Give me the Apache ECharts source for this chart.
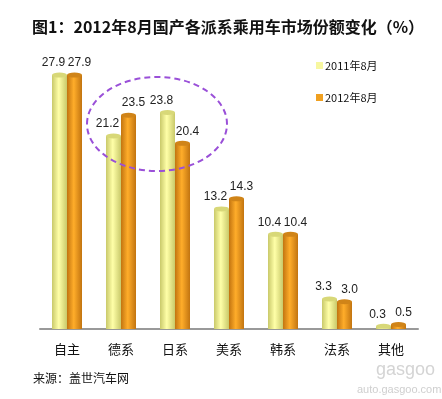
<!DOCTYPE html>
<html>
<head>
<meta charset="utf-8">
<script src="https://cdn.jsdelivr.net/npm/echarts@6/dist/echarts.min.js"></script>
<style>
  html, body { margin: 0; padding: 0; background: #fff; }
  #chart { width: 442px; height: 399px; }
</style>
</head>
<body>
<div id="chart"></div>
<script>
// 派系
const categories = ['自主', '德系', '日系', '美系', '韩系', '法系', '其他'];
// 市场份额 (%)
const share2011 = [27.9, 21.2, 23.8, 13.2, 10.4, 3.3, 0.3];
const share2012 = [27.9, 23.5, 20.4, 14.3, 10.4, 3.0, 0.5];
const seriesNames = ['2011年8月', '2012年8月'];

const cjk = '"Noto Sans CJK SC", sans-serif';

// 圆柱体的横向渐变
function cyl(edge, mid) {
    return new echarts.graphic.LinearGradient(0, 0, 1, 0, [
        { offset: 0, color: edge },
        { offset: 0.45, color: mid },
        { offset: 1, color: edge }
    ]);
}
const yellowBody = cyl('#c9c96a', '#ffffa8');
const orangeBody = cyl('#c27410', '#ffad2a');

function valueLabel(dx) {
    return {
        show: true, position: 'top', distance: 6, offset: [dx, 0],
        fontFamily: 'Arial', fontSize: 12, color: '#222',
        formatter: p => p.value.toFixed(1)
    };
}

let myChart = echarts.init(document.getElementById('chart'));
let options = {
    animation: false,
    title: {
        text: '图1：2012年8月国产各派系乘用车市场份额变化（%）',
        left: 27,
        top: 14,
        textStyle: { fontFamily: cjk, fontSize: 16, fontWeight: 'bold', color: '#111' }
    },
    legend: {
        data: [
            { name: seriesNames[0], itemStyle: { color: '#f7f7a0' } },
            { name: seriesNames[1], itemStyle: { color: '#f0a020' } }
        ],
        orient: 'vertical',
        left: 311,
        top: 55,
        itemWidth: 7,
        itemHeight: 7,
        itemGap: 21,
        icon: 'rect',
        textStyle: { fontFamily: cjk, fontSize: 11, color: '#111', padding: [0, 0, 0, -3] }
    },
    grid: { left: 40, right: 24, top: 56, bottom: 70 },
    xAxis: {
        type: 'category',
        data: categories,
        axisTick: { show: false },
        axisLine: { lineStyle: { color: '#999', width: 2 } },
        axisLabel: { fontFamily: cjk, fontSize: 13, color: '#111', margin: 14 }
    },
    yAxis: {
        type: 'value',
        min: 0,
        max: 30,
        show: false
    },
    series: [
        {
            name: seriesNames[0],
            type: 'bar',
            data: share2011,
            barWidth: 15,
            barGap: '0%',
            itemStyle: { color: yellowBody },
            label: valueLabel(-6)
        },
        {
            name: seriesNames[1],
            type: 'bar',
            data: share2012,
            barWidth: 15,
            itemStyle: { color: orangeBody },
            label: valueLabel(5)
        },
        // 圆柱顶面
        {
            type: 'pictorialBar',
            data: share2011,
            symbol: 'circle',
            symbolSize: [15, 5],
            symbolPosition: 'end',
            symbolOffset: ['-50%', '-50%'],
            z: 3,
            itemStyle: { color: '#d8d878' },
            silent: true
        },
        {
            type: 'pictorialBar',
            data: share2012,
            symbol: 'circle',
            symbolSize: [15, 5],
            symbolPosition: 'end',
            symbolOffset: ['50%', '-50%'],
            z: 3,
            itemStyle: { color: '#d08418' },
            silent: true
        }
    ],
    graphic: [
        {
            type: 'ellipse',
            shape: { cx: 157, cy: 124, rx: 70, ry: 47 },
            style: { fill: 'none', stroke: '#9a50d8', lineWidth: 2, lineDash: [6, 4] },
            z: 10
        },
        {
            type: 'text',
            left: 33,
            top: 372,
            style: { text: '来源：盖世汽车网', font: '12px ' + cjk, fill: '#111' }
        },
        {
            type: 'text',
            left: 376,
            top: 361,
            style: { text: 'gasgoo', font: '18px Arial', fill: '#d4d4d4' }
        },
        {
            type: 'text',
            left: 357,
            top: 384,
            style: { text: 'auto.gasgoo.com', font: '11px Arial', fill: '#cfcfcf' }
        }
    ]
};
myChart.setOption(options);
</script>
</body>
</html>
